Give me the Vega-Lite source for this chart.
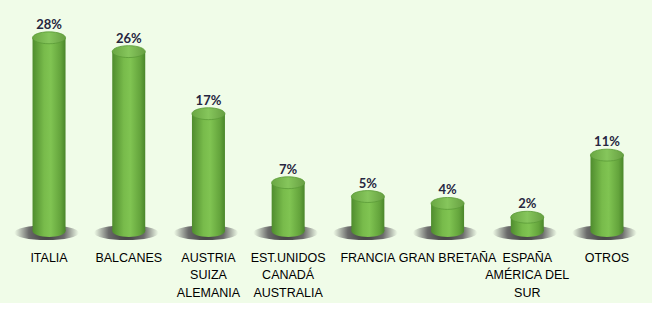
{
  "$schema": "https://vega.github.io/schema/vega-lite/v6.json",
  "width": 652,
  "height": 303,
  "autosize": {"type": "none"},
  "padding": {"left": 0, "right": 0, "top": 0, "bottom": 27},
  "background": "#ffffff",
  "config": {"view": {"fill": "#f0fce8", "stroke": null}},
  "data": {
    "values": [
      {"region": "ITALIA", "pct": 28},
      {"region": "BALCANES", "pct": 26},
      {"region": "AUSTRIA|SUIZA|ALEMANIA", "pct": 17},
      {"region": "EST.UNIDOS|CANADÁ|AUSTRALIA", "pct": 7},
      {"region": "FRANCIA", "pct": 5},
      {"region": "GRAN BRETAÑA", "pct": 4},
      {"region": "ESPAÑA|AMÉRICA DEL|SUR", "pct": 2},
      {"region": "OTROS", "pct": 11}
    ]
  },
  "transform": [{"calculate": "datum.pct + '%'", "as": "lbl"}],
  "encoding": {
    "x": {
      "field": "region",
      "type": "nominal",
      "sort": null,
      "scale": {"paddingInner": 0, "paddingOuter": 0.09, "align": 0.64},
      "axis": {
        "title": null,
        "orient": "bottom",
        "offset": -72,
        "domain": false,
        "ticks": false,
        "labelAngle": 0,
        "labelFont": "Liberation Sans",
        "labelFontSize": 12.5,
        "labelColor": "#000000",
        "labelPadding": 20,
        "labelBaseline": "top",
        "labelLineHeight": 17.5,
        "labelLimit": 200,
        "labelOverlap": false,
        "labelExpr": "split(datum.label, '|')"
      }
    }
  },
  "layer": [
    {
      "mark": {
        "type": "point",
        "filled": true,
        "opacity": 1,
        "size": 1089,
        "shape": "M -2.1 0.1 A 1.95 0.45 0 1 0 1.8 0.1 A 1.95 0.45 0 1 0 -2.1 0.1 Z",
        "fill": {
          "gradient": "radial",
          "stops": [
            {"offset": 0, "color": "#3a3a3a"},
            {"offset": 0.55, "color": "#6a6a6a"},
            {"offset": 1, "color": "#f0fce8"}
          ]
        }
      },
      "encoding": {
        "y": {"datum": 0, "type": "quantitative", "scale": {"domain": [-10.43, 33.48], "nice": false, "zero": false}, "axis": null}
      }
    },
    {
      "mark": {
        "type": "point",
        "filled": true,
        "opacity": 1,
        "size": 1089,
        "shape": "M -1 0 A 1 0.36 0 1 0 1 0 A 1 0.36 0 1 0 -1 0 Z",
        "fill": {
          "gradient": "linear", "x1": 0, "x2": 1, "y1": 0, "y2": 0,
          "stops": [
            {"offset": 0, "color": "#4f8c2e"},
            {"offset": 0.35, "color": "#78bb4b"},
            {"offset": 0.55, "color": "#80c452"},
            {"offset": 0.85, "color": "#64a43c"},
            {"offset": 1, "color": "#4a862a"}
          ]
        }
      },
      "encoding": {
        "y": {"datum": 0, "type": "quantitative"}
      }
    },
    {
      "mark": {
        "type": "bar",
        "width": 33,
        "color": {
          "gradient": "linear", "x1": 0, "x2": 1, "y1": 0, "y2": 0,
          "stops": [
            {"offset": 0, "color": "#4f8c2e"},
            {"offset": 0.35, "color": "#78bb4b"},
            {"offset": 0.55, "color": "#80c452"},
            {"offset": 0.85, "color": "#64a43c"},
            {"offset": 1, "color": "#4a862a"}
          ]
        }
      },
      "encoding": {
        "y": {"field": "pct", "type": "quantitative"},
        "y2": {"datum": 0}
      }
    },
    {
      "mark": {
        "type": "point",
        "filled": true,
        "opacity": 1,
        "size": 1089,
        "shape": "M -1 0 A 1 0.36 0 1 0 1 0 A 1 0.36 0 1 0 -1 0 Z",
        "stroke": "#5b9a37",
        "strokeWidth": 0.8,
        "fill": {
          "gradient": "linear", "x1": 0, "x2": 1, "y1": 0, "y2": 0,
          "stops": [
            {"offset": 0, "color": "#6aa743"},
            {"offset": 0.5, "color": "#86c65c"},
            {"offset": 1, "color": "#679f42"}
          ]
        }
      },
      "encoding": {
        "y": {"field": "pct", "type": "quantitative"}
      }
    },
    {
      "mark": {
        "type": "text",
        "font": "Lato",
        "fontWeight": "bold",
        "fontSize": 13,
        "color": "#262640",
        "baseline": "alphabetic",
        "dy": -9
      },
      "encoding": {
        "y": {"field": "pct", "type": "quantitative"},
        "text": {"field": "lbl"}
      }
    }
  ]
}
